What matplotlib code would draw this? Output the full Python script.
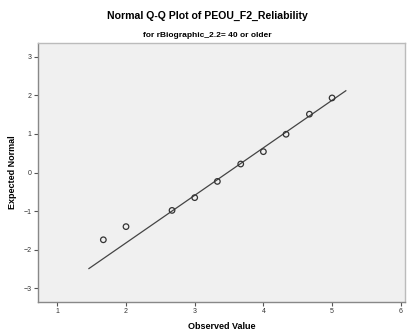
import matplotlib
matplotlib.use('Agg')
import matplotlib.pyplot as plt
import numpy as np

# observed values and their expected normal scores
observed = [1.67, 2.0, 2.67, 3.0, 3.33, 3.67, 4.0, 4.33, 4.67, 5.0]
expected = [-1.74, -1.40, -0.98, -0.65, -0.23, 0.22, 0.54, 0.99, 1.51, 1.93]

# reference line (mean / sd of the sample) and the x-range it is drawn over
fit_mean = 3.48
fit_sd = 0.813
line_range = [1.46, 5.2]

x_ticks = [1, 2, 3, 4, 5, 6]
y_ticks = [-3, -2, -1, 0, 1, 2, 3]

plt.rcParams['font.family'] = ['Liberation Sans', 'DejaVu Sans']

fig = plt.figure(figsize=(4.14, 3.35), dpi=100)
ax = fig.add_axes([0.092, 0.0985, 0.886, 0.773])
ax.set_facecolor('#f0f0f0')

line_x = np.array(line_range)
line_y = (line_x - fit_mean) / fit_sd
ax.plot(line_x, line_y, color='#444444', linewidth=0.9)

ax.scatter(observed, expected, s=16, facecolors='none', edgecolors='#333333',
           linewidths=0.9, zorder=3)

ax.set_xlim(0.72, 6.06)
ax.set_ylim(-3.35, 3.35)
ax.set_xticks(x_ticks)
ax.set_yticks(y_ticks)
ax.tick_params(direction='out', length=3, width=0.8, color='#555555',
               labelsize=5, labelcolor='#333333', pad=1.5)

for side in ['left', 'bottom', 'top', 'right']:
    ax.spines[side].set_color('#888888')
    ax.spines[side].set_linewidth(1.0)
ax.spines['top'].set_color('#bbbbbb')
ax.spines['right'].set_color('#bbbbbb')

ax.set_xlabel('Observed Value', fontsize=6.5, fontweight='bold', labelpad=5)
ax.set_ylabel('Expected Normal', fontsize=6.5, fontweight='bold', labelpad=5)

fig.text(0.5, 0.952, 'Normal Q-Q Plot of PEOU_F2_Reliability', ha='center',
         va='center', fontsize=7.6, fontweight='bold')
fig.text(0.5, 0.893, 'for rBiographic_2.2= 40 or older', ha='center',
         va='center', fontsize=6.0, fontweight='bold')

fig.savefig('out.png', dpi=100)
